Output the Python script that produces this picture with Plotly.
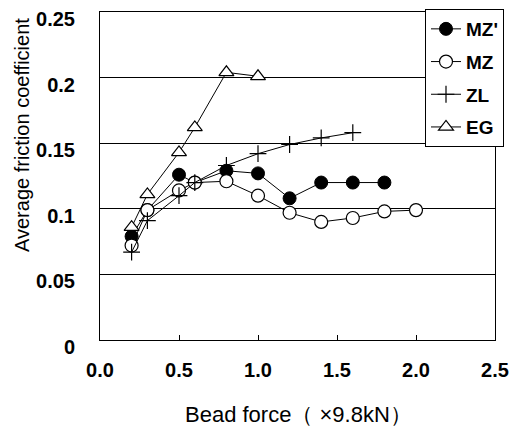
import plotly.graph_objects as go

# Data
mzp_x = [0.2, 0.3, 0.5, 0.6, 0.8, 1.0, 1.2, 1.4, 1.6, 1.8]
mzp_y = [0.079, 0.099, 0.126, 0.120, 0.129, 0.127, 0.108, 0.120, 0.120, 0.120]

mz_x = [0.2, 0.3, 0.5, 0.6, 0.8, 1.0, 1.2, 1.4, 1.6, 1.8, 2.0]
mz_y = [0.072, 0.099, 0.114, 0.120, 0.121, 0.110, 0.097, 0.090, 0.093, 0.098, 0.099]

zl_x = [0.2, 0.3, 0.5, 0.6, 0.8, 1.0, 1.2, 1.4, 1.6]
zl_y = [0.067, 0.091, 0.110, 0.120, 0.133, 0.142, 0.149, 0.154, 0.158]

eg_x = [0.2, 0.3, 0.5, 0.6, 0.8, 1.0]
eg_y = [0.086, 0.111, 0.143, 0.162, 0.204, 0.201]

x_ticks = [0.0, 0.5, 1.0, 1.5, 2.0, 2.5]
y_ticks = [0, 0.05, 0.1, 0.15, 0.2, 0.25]

FONT = "Liberation Sans, Arial, sans-serif"
W, H = 511, 428
L, R, T, B = 100, 16, 12, 88
PW, PH = W - L - R, H - T - B

fig = go.Figure()
line = dict(color="black", width=1)
fig.add_trace(go.Scatter(x=mzp_x, y=mzp_y, name="<b>MZ'</b>", legendgroup="a", mode="lines+markers", line=line,
                         marker=dict(symbol="circle", size=13, color="black",
                                     line=dict(color="black", width=1))))
fig.add_trace(go.Scatter(x=mz_x, y=mz_y, name="<b>MZ</b>", legendgroup="b", mode="lines+markers", line=line,
                         marker=dict(symbol="circle", size=13, color="white",
                                     line=dict(color="black", width=1.2))))
fig.add_trace(go.Scatter(x=zl_x, y=zl_y, name="<b>ZL</b>", legendgroup="c", mode="lines+markers", line=line,
                         marker=dict(symbol="cross-thin-open", size=12, color="black",
                                     line=dict(color="black", width=1.2))))
fig.add_trace(go.Scatter(x=eg_x, y=eg_y, name="<b>EG</b>", legendgroup="d", mode="lines+markers", line=line,
                         marker=dict(symbol="triangle-up", size=13, color="white",
                                     line=dict(color="black", width=1.2))))

tickfont = dict(family=FONT, size=20, color="black")

fig.update_layout(
    width=W, height=H,
    margin=dict(l=L, r=R, t=T, b=B, autoexpand=False),
    paper_bgcolor="white", plot_bgcolor="white",
    showlegend=True,
    legend=dict(x=(425 - L) / PW, y=(H - B - 9) / PH, xanchor="left", yanchor="top",
                bordercolor="black", borderwidth=1, bgcolor="white",
                font=dict(family=FONT, size=19, color="black"),
                tracegroupgap=5, itemwidth=30),
    xaxis=dict(range=[0, 2.5], tickvals=x_ticks, ticktext=[f"<b>{v:.1f}</b>" for v in x_ticks],
               ticks="inside", ticklen=5, tickcolor="black",
               showline=True, linecolor="black", linewidth=1, mirror=True,
               showgrid=False, zeroline=False, tickfont=tickfont, ticklabelstandoff=12),
    yaxis=dict(range=[0, 0.25], tickvals=y_ticks, ticktext=[f"<b>{v:g}</b>" for v in y_ticks],
               ticks="", showline=True, linecolor="black", linewidth=1, mirror=True,
               showgrid=True, gridcolor="black", gridwidth=1, zeroline=False,
               tickfont=tickfont, ticklabelstandoff=20, ticklabelshift=7),
    annotations=[
        dict(text="Bead force（ ×9.8kN）", xref="paper", yref="paper",
             x=(298 - L) / PW, y=-(414 - (H - B)) / PH, xanchor="center", yanchor="middle",
             showarrow=False, font=dict(family=FONT, size=22, color="black")),
        dict(text="Average friction coefficient", textangle=-90, xref="paper", yref="paper",
             x=(22 - L) / PW, y=(H - B - 135) / PH, xanchor="center", yanchor="middle",
             showarrow=False, font=dict(family=FONT, size=20, color="black")),
    ],
)

fig.write_html("out.html")
